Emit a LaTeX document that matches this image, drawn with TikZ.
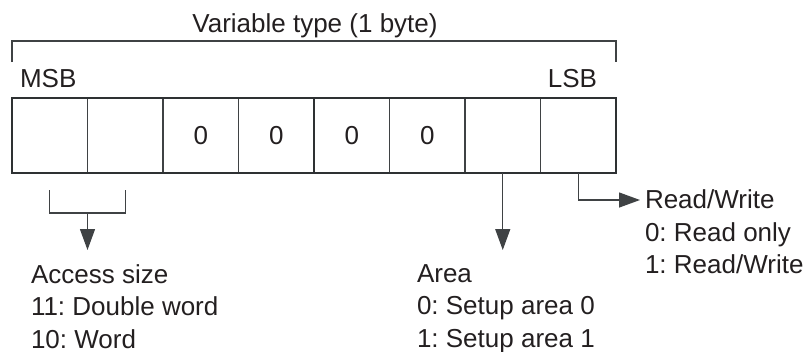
\documentclass[tikz,border=0pt]{standalone}
\usepackage{fontspec}
\setmainfont{Liberation Sans}
\usetikzlibrary{arrows.meta}
\definecolor{ink}{HTML}{231F20}
\definecolor{frame}{HTML}{2E3133}
\definecolor{thin}{HTML}{3F4244}
\begin{document}
\frenchspacing
\begin{tikzpicture}[x=1pt,y=-1pt,
  lbl/.style={inner sep=0pt, outer sep=0pt, text=ink, font=\fontsize{26}{32.5}\selectfont},
  txtblock/.style={lbl, align=left, anchor=north west},
  cell/.style={draw=thin, line width=1.2pt, rectangle, minimum width=75.5pt, minimum height=75pt,
    inner sep=0pt, outer sep=0pt, text=ink, font=\fontsize{26}{32.5}\selectfont},
  wire/.style={draw=thin, line width=1.3pt},
  arr/.style={wire, -{Triangle[length=21pt,width=15pt]}, shorten >=0pt}
]
\useasboundingbox (0,0) rectangle (810,351);
% cells
\node[cell] (c1) at (49.75,135.5) {};
\node[cell] (c2) at (125.25,135.5) {};
\node[cell] (c3) at (200.75,135.5) {\raisebox{-2pt}{0}};
\node[cell] (c4) at (276.25,135.5) {\raisebox{-2pt}{0}};
\node[cell] (c5) at (351.75,135.5) {\raisebox{-2pt}{0}};
\node[cell] (c6) at (427.25,135.5) {\raisebox{-2pt}{0}};
\node[cell] (c7) at (502.75,135.5) {};
\node[cell] (c8) at (578.25,135.5) {};
\draw[frame, line width=2pt] (c4.north east) -- (c4.south east);
\draw[frame, line width=2.6pt] (c1.north west) rectangle (c8.south east);
% top bracket and labels
\coordinate (tl) at (12,62);
\coordinate (tr) at (616,62);
\draw[wire] (tl) -- ++(0,-21) -| (tr);
\node[lbl, anchor=base] (title) at (315,32) {Variable type (1 byte)};
\node[lbl, anchor=base west] (msb) at (20,87) {MSB};
\node[lbl, anchor=base east] (lsb) at (597,87) {LSB};
% access size
\coordinate (b1) at (49.75,190);
\coordinate (b2) at (125.25,190);
\coordinate (bm) at (87.5,213);
\draw[wire] (b1) |- (bm) -| (b2);
\node[txtblock] (access) at (31,264.4) {Access size\\11: Double word\\10: Word};
\coordinate (atip) at (87.5,250);
\draw[arr] (bm) -- (atip);
% area
\node[txtblock] (area) at (417,264.4) {Area\\0: Setup area 0\\1: Setup area 1};
\draw[arr] (c7.south) -- (c7.south |- atip);
% read/write
\node[txtblock] (rw) at (645,190) {Read/Write\\0: Read only\\1: Read/Write};
\coordinate (rwtip) at (640,200);
\draw[arr] (c8.south) |- (rwtip);
\end{tikzpicture}
\end{document}
